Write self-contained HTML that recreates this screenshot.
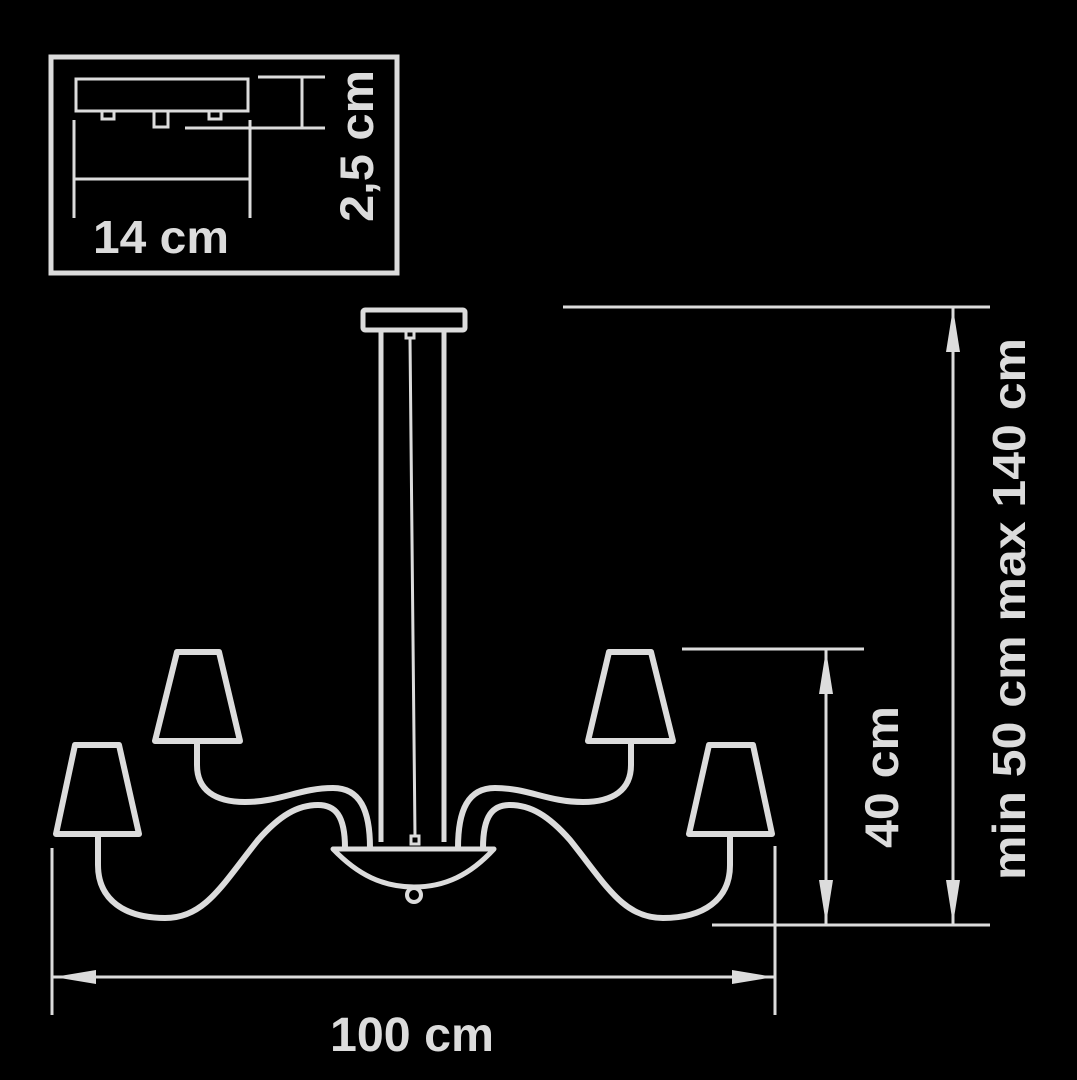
<!DOCTYPE html>
<html><head><meta charset="utf-8"><style>
html,body{margin:0;padding:0;background:#000;}
svg{display:block;}
text{font-family:"Liberation Sans",sans-serif;font-weight:bold;fill:#dcdcdc;}
</style></head><body>
<svg width="1077" height="1080" viewBox="0 0 1077 1080" xmlns="http://www.w3.org/2000/svg">
<rect width="1077" height="1080" fill="#000"/>
<g stroke="#dcdcdc" fill="none">
  <!-- inset -->
  <rect x="51" y="57" width="346" height="216" stroke-width="5"/>
  <rect x="76" y="79" width="172" height="32" stroke-width="3"/>
  <rect x="102" y="111" width="12" height="8" stroke-width="3"/>
  <rect x="154" y="111" width="14" height="16" stroke-width="3"/>
  <rect x="209" y="111" width="12" height="8" stroke-width="3"/>
  <line x1="74" y1="120" x2="74" y2="218" stroke-width="3"/>
  <line x1="250" y1="120" x2="250" y2="218" stroke-width="3"/>
  <line x1="74" y1="179" x2="250" y2="179" stroke-width="3"/>
  <line x1="258" y1="77" x2="325" y2="77" stroke-width="3"/>
  <line x1="185" y1="128" x2="325" y2="128" stroke-width="3"/>
  <line x1="302" y1="77" x2="302" y2="128" stroke-width="3"/>

  <!-- chandelier -->
  <rect x="363" y="310" width="102" height="20" rx="2" stroke-width="5"/>
  <line x1="381" y1="330" x2="381" y2="842" stroke-width="5"/>
  <line x1="444" y1="330" x2="444" y2="842" stroke-width="5"/>
  <rect x="406" y="331" width="8" height="7" stroke-width="3"/>
  <path d="M410 338 L413 640 L415 836" stroke-width="3"/>
  <rect x="411" y="836" width="8" height="8" stroke-width="3"/>
  <path d="M333 849 L494 849 C470 875 445 887 414 887 C383 887 358 875 333 849 Z" stroke-width="5" stroke-linejoin="round"/>
  <circle cx="414" cy="895" r="7" stroke-width="4"/>
  <g id="L" stroke-width="6" stroke-linejoin="round" stroke-linecap="round">
    <path d="M177 652 L219 652 L240 741 L155 741 Z"/>
    <path d="M75 745 L119 745 L139 834 L56 834 Z"/>
    <path d="M197 741 L197 765 C197 790 215 802 245 802 C280 802 300 788 333 788 C360 788 370 810 370 848"/>
    <path d="M98 834 L98 865 C98 900 125 918 165 918 C205 918 222 885 258 840 C280 815 298 805 318 805 C335 805 345 815 345 848"/>
  </g>
  <use href="#L" transform="translate(828 0) scale(-1 1)"/>

  <!-- dimensions -->
  <g stroke-width="3">
    <line x1="563" y1="307" x2="990" y2="307"/>
    <line x1="712" y1="925" x2="990" y2="925"/>
    <line x1="953" y1="307" x2="953" y2="925"/>
    <line x1="682" y1="649" x2="864" y2="649"/>
    <line x1="826" y1="649" x2="826" y2="925"/>
    <line x1="53" y1="977" x2="775" y2="977"/>
    <line x1="52" y1="848" x2="52" y2="1015"/>
    <line x1="775" y1="846" x2="775" y2="1015"/>
  </g>
</g>
<g fill="#dcdcdc">
  <polygon points="953,308 946,352 960,352"/>
  <polygon points="953,924 946,880 960,880"/>
  <polygon points="826,650 819,694 833,694"/>
  <polygon points="826,924 819,880 833,880"/>
  <polygon points="54,977 96,970 96,984"/>
  <polygon points="774,977 732,970 732,984"/>
</g>
<text x="93" y="253" font-size="46" textLength="136" lengthAdjust="spacingAndGlyphs">14 cm</text>
<text transform="translate(373 222) rotate(-90)" font-size="47" textLength="152" lengthAdjust="spacingAndGlyphs">2,5 cm</text>
<text x="330" y="1051" font-size="48" textLength="164" lengthAdjust="spacingAndGlyphs">100 cm</text>
<text transform="translate(898 848) rotate(-90)" font-size="47" textLength="142" lengthAdjust="spacingAndGlyphs">40 cm</text>
<text transform="translate(1025 880) rotate(-90)" font-size="46" textLength="542" lengthAdjust="spacingAndGlyphs">min 50 cm max 140 cm</text>
</svg>
</body></html>
